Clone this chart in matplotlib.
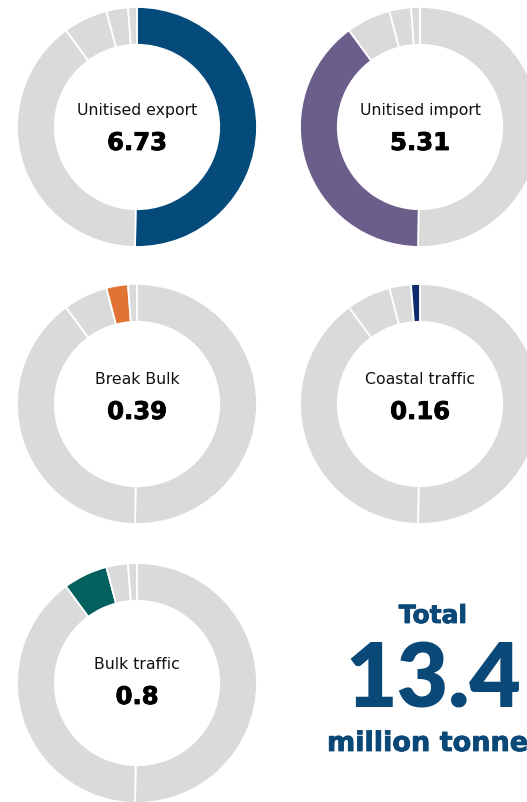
import matplotlib
matplotlib.use("Agg")
import matplotlib.pyplot as plt
import matplotlib.patheffects as pe

# Data
categories = ["Unitised export", "Unitised import", "Bulk traffic", "Break Bulk", "Coastal traffic"]
values = [6.73, 5.31, 0.8, 0.39, 0.16]
value_labels = ["6.73", "5.31", "0.8", "0.39", "0.16"]
highlight_colors = ["#044a7a", "#6b5e8b", "#02605e", "#e07434", "#0b2a6b"]
# panel order in the figure
panel_order = ["Unitised export", "Unitised import", "Break Bulk", "Coastal traffic", "Bulk traffic"]
total_value = "13.4"
total_unit = "million tonne"

GRAY = "#dadada"
W, H = 527, 803
fig = plt.figure(figsize=(W / 100, H / 100), dpi=100)
fig.patch.set_facecolor("white")

centres = [(137, 128), (420, 128), (137, 405), (420, 405), (137, 684)]
label_y = [110, 110, 380, 380, 665]
number_y = [144, 144, 413, 413, 698]
R = 120
LFONT = ["DejaVu Sans"]
BIG = ["Lato", "DejaVu Sans"]

def thick(color, lw):
    return [pe.Stroke(linewidth=lw, foreground=color), pe.Normal()]

for k, (name, (cx, cy)) in enumerate(zip(panel_order, centres)):
    idx = categories.index(name)
    cols = [highlight_colors[i] if i == idx else GRAY for i in range(len(values))]
    ax = fig.add_axes([(cx - R) / W, (H - cy - R) / H, 2 * R / W, 2 * R / H])
    ax.pie(values, colors=cols, startangle=90, counterclock=False, radius=1,
           wedgeprops=dict(width=0.315, edgecolor="white", linewidth=1.3))
    ax.set_xlim(-1, 1)
    ax.set_ylim(-1, 1)
    ax.set_aspect("auto")
    ax.axis("off")
    fig.text(cx / W, 1 - label_y[k] / H, name, ha="center", va="center",
             fontsize=11.3, family=LFONT, color="#111111")
    fig.text(cx / W, 1 - number_y[k] / H, value_labels[idx], ha="center", va="center",
             fontsize=17.5, family=LFONT, weight="bold", color="#000000",
             path_effects=thick("#000000", 0.6))

TOT = "#0a4878"
fig.text(433 / W, 1 - 617 / H, "Total", ha="center", va="center",
         fontsize=18, family=LFONT, weight="bold", color=TOT,
         path_effects=thick(TOT, 0.6))
fig.text(433 / W, 1 - 682 / H, total_value, ha="center", va="center",
         fontsize=64, family=BIG, weight="heavy", color=TOT)
fig.text(327 / W, 1 - 745 / H, total_unit, ha="left", va="center",
         fontsize=19.5, family=LFONT, weight="bold", color=TOT,
         path_effects=thick(TOT, 0.6))

fig.savefig("out.png", dpi=100, facecolor="white")
